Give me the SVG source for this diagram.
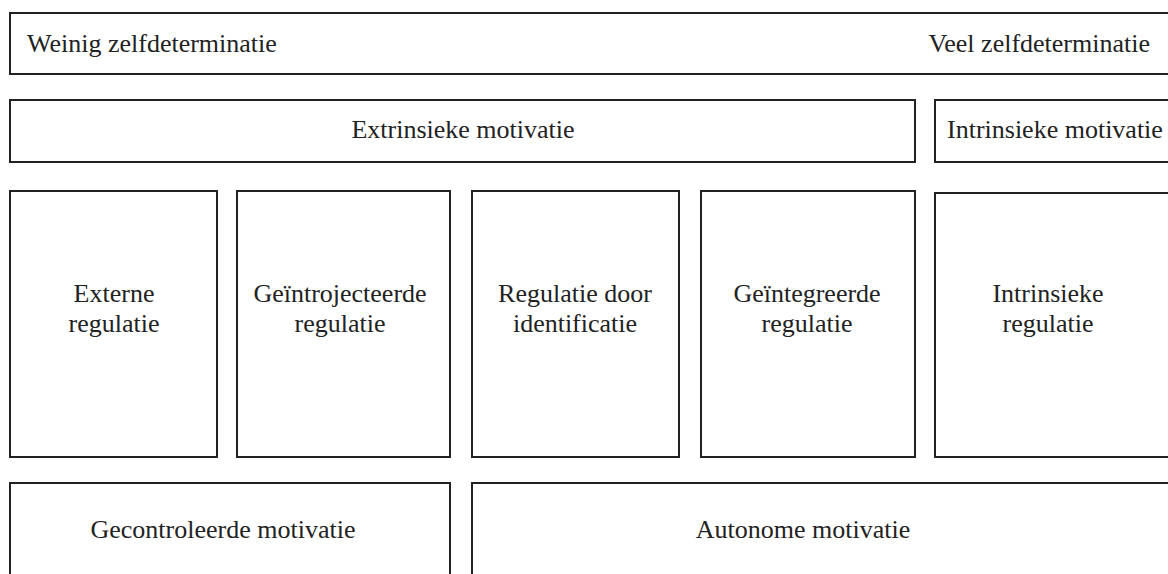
<svg xmlns="http://www.w3.org/2000/svg" width="1168" height="574" viewBox="0 0 1168 574">
<style>
.box{fill:#fff;stroke:#222;stroke-width:2}
.t{font-family:"Liberation Serif","Times New Roman",serif;font-size:26px;fill:#222}
.c{text-anchor:middle}
</style>
<rect x="0" y="0" width="1168" height="574" fill="#fff"/>
<g id="weinig-veel">
<rect class="box" x="10" y="13" width="1170" height="61"/>
<text class="t" x="27" y="52">Weinig zelfdeterminatie</text>
<text class="t" x="1150" y="52" text-anchor="end">Veel zelfdeterminatie</text>
</g>
<g id="extrinsieke">
<rect class="box" x="10" y="100" width="905" height="62"/>
<text class="t c" x="463" y="138">Extrinsieke motivatie</text>
</g>
<g id="intrinsieke-motivatie">
<rect class="box" x="935" y="100" width="245" height="62"/>
<text class="t" x="947" y="138">Intrinsieke motivatie</text>
</g>
<g id="externe">
<rect class="box" x="10" y="191" width="207" height="266"/>
<text class="t c" x="114" y="302">Externe</text>
<text class="t c" x="114" y="332">regulatie</text>
</g>
<g id="geintrojecteerde">
<rect class="box" x="237" y="191" width="213" height="266"/>
<text class="t c" x="340" y="302">Geïntrojecteerde</text>
<text class="t c" x="340" y="332">regulatie</text>
</g>
<g id="identificatie">
<rect class="box" x="472" y="191" width="207" height="266"/>
<text class="t c" x="575" y="302">Regulatie door</text>
<text class="t c" x="575" y="332">identificatie</text>
</g>
<g id="geintegreerde">
<rect class="box" x="701" y="191" width="214" height="266"/>
<text class="t c" x="807" y="302">Geïntegreerde</text>
<text class="t c" x="807" y="332">regulatie</text>
</g>
<g id="intrinsieke-regulatie">
<rect class="box" x="935" y="193" width="245" height="264"/>
<text class="t c" x="1048" y="302">Intrinsieke</text>
<text class="t c" x="1048" y="332">regulatie</text>
</g>
<g id="gecontroleerde">
<rect class="box" x="10" y="483" width="440" height="110"/>
<text class="t c" x="223" y="538">Gecontroleerde motivatie</text>
</g>
<g id="autonome">
<rect class="box" x="472" y="483" width="708" height="110"/>
<text class="t c" x="803" y="538">Autonome motivatie</text>
</g>
<g id="connectors"></g>
</svg>
